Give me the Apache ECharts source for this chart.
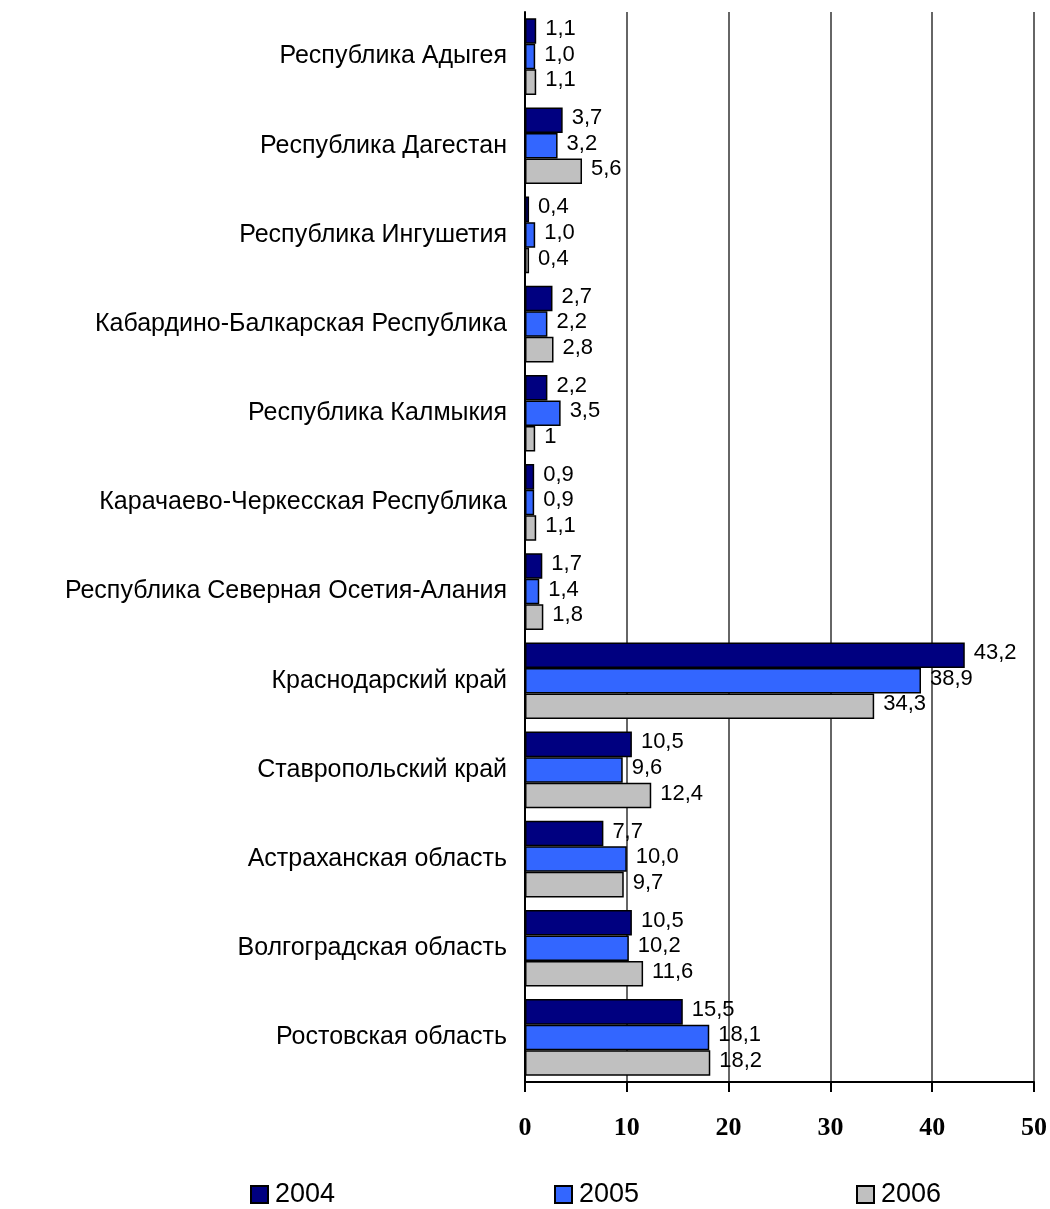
<!DOCTYPE html>
<html>
<head>
<meta charset="utf-8">
<script src="https://cdn.jsdelivr.net/npm/echarts@6/dist/echarts.min.js"></script>
<style>
	html, body { margin: 0; padding: 0; background: #fff; }
	#main { width: 1050px; height: 1209px; }
</style>
</head>
<body>
<div id="main"></div>
<script>
// регионы, сверху вниз
var regions = [
	'Республика Адыгея',
	'Республика Дагестан',
	'Республика Ингушетия',
	'Кабардино-Балкарская Республика',
	'Республика Калмыкия',
	'Карачаево-Черкесская Республика',
	'Республика Северная Осетия-Алания',
	'Краснодарский край',
	'Ставропольский край',
	'Астраханская область',
	'Волгоградская область',
	'Ростовская область'
];
var years = ['2004', '2005', '2006'];
// значения как подписаны на диаграмме
var data2004 = ['1,1', '3,7', '0,4', '2,7', '2,2', '0,9', '1,7', '43,2', '10,5', '7,7', '10,5', '15,5'];
var data2005 = ['1,0', '3,2', '1,0', '2,2', '3,5', '0,9', '1,4', '38,9', '9,6', '10,0', '10,2', '18,1'];
var data2006 = ['1,1', '5,6', '0,4', '2,8', '1', '1,1', '1,8', '34,3', '12,4', '9,7', '11,6', '18,2'];
var xTicks = [0, 10, 20, 30, 40, 50];

var colors = ['#000080', '#3366ff', '#c0c0c0'];
var sans = 'Liberation Sans, Arial, sans-serif';

function toNum(s) {
	return parseFloat(s.replace(',', '.'));
}

function makeSeries(name, arr, color) {
	return {
		name: name,
		type: 'bar',
		barGap: '0%',
		barCategoryGap: '14%',
		data: arr.map(function(s) {
			return { value: toNum(s), label: { formatter: s } };
		}),
		itemStyle: {
			color: color,
			borderColor: '#000',
			borderWidth: 1.5
		},
		label: {
			show: true,
			position: 'right',
			distance: 9,
			offset: [0, -2],
			color: '#000',
			fontFamily: sans,
			fontSize: 22
		}
	};
}

var myChart = echarts.init(document.getElementById('main'));

var legends = [
	{ data: [years[0]], left: 250 },
	{ data: [years[1]], left: 554 },
	{ data: [years[2]], left: 856 }
];
legends.forEach(function(l) {
	l.top = 1181;
	l.padding = 0;
	l.itemWidth = 17;
	l.itemHeight = 17;
	l.icon = 'rect';
	l.textStyle = {
		fontFamily: sans,
		fontSize: 27,
		color: '#000',
		padding: [0, 0, 0, 2]
	};
});

var option = {
	backgroundColor: '#fff',
	animation: false,
	grid: {
		left: 525,
		right: 12,
		top: 12,
		bottom: 127
	},
	legend: legends,
	xAxis: {
		type: 'value',
		min: xTicks[0],
		max: xTicks[xTicks.length - 1],
		interval: 10,
		axisLine: { show: true, lineStyle: { color: '#000', width: 2 } },
		axisTick: { show: true, length: 10, lineStyle: { color: '#000', width: 2 } },
		splitLine: { show: true, lineStyle: { color: '#333', width: 1.5 } },
		axisLabel: {
			margin: 33,
			color: '#000',
			fontFamily: 'Liberation Serif, Times New Roman, serif',
			fontWeight: 'bold',
			fontSize: 26
		}
	},
	yAxis: {
		type: 'category',
		inverse: true,
		data: regions,
		axisLine: { show: true, lineStyle: { color: '#000', width: 2 } },
		axisTick: { show: false },
		axisLabel: {
			margin: 18,
			color: '#000',
			fontFamily: sans,
			fontSize: 25
		}
	},
	series: [
		makeSeries(years[0], data2004, colors[0]),
		makeSeries(years[1], data2005, colors[1]),
		makeSeries(years[2], data2006, colors[2])
	]
};

myChart.setOption(option);
</script>
</body>
</html>
